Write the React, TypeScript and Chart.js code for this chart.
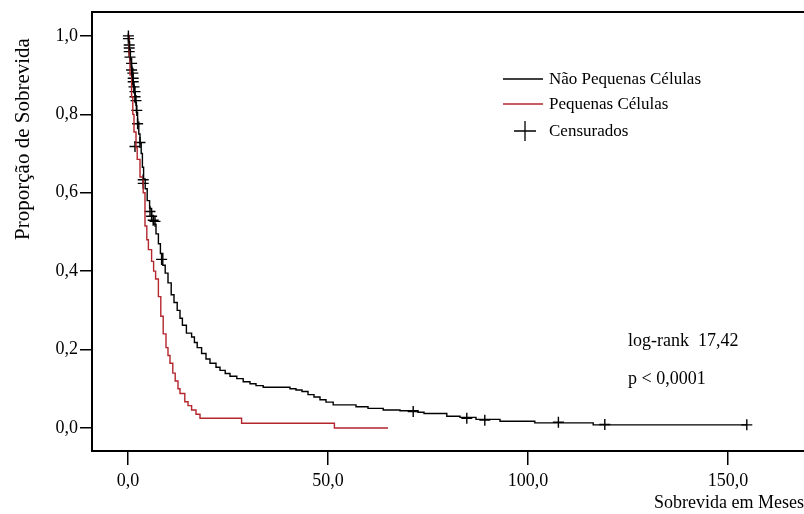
import React, { useEffect, useRef } from "react";
import { Chart, registerables } from "chart.js";

Chart.register(...registerables);

// ---- Data ----
const npcLabel = "Não Pequenas Células";
const npcTimes = [0, 0.2, 0.4, 0.6, 0.8, 1.0, 1.2, 1.5, 1.8, 2.1, 2.4, 2.7, 3.0, 3.3, 3.6, 3.9, 4.3, 4.8, 5.4, 5.9, 6.4, 7.0, 7.6, 8.1, 8.7, 9.3, 10.0, 10.8, 11.5, 12.3, 13.0, 13.6, 14.6, 15.9, 16.6, 17.3, 18.4, 19.5, 20.5, 22.0, 23.0, 24.3, 25.5, 27.2, 28.8, 30.5, 32.0, 33.8, 40.5, 42.0, 43.5, 45.0, 46.5, 48.0, 49.5, 51.3, 57.0, 60.0, 63.8, 68.0, 72.5, 74.0, 79.7, 83.0, 87.0, 93.0, 101.7, 116.3, 154.7];
const npcSurv = [1.0, 0.985, 0.965, 0.94, 0.92, 0.895, 0.875, 0.855, 0.83, 0.805, 0.78, 0.75, 0.725, 0.7, 0.665, 0.635, 0.61, 0.58, 0.56, 0.54, 0.52, 0.495, 0.47, 0.445, 0.415, 0.395, 0.37, 0.34, 0.32, 0.3, 0.28, 0.262, 0.242, 0.232, 0.218, 0.205, 0.19, 0.176, 0.165, 0.155, 0.147, 0.139, 0.132, 0.126, 0.118, 0.113, 0.108, 0.104, 0.1, 0.097, 0.093, 0.085, 0.079, 0.072, 0.066, 0.059, 0.054, 0.05, 0.046, 0.044, 0.04, 0.037, 0.03, 0.027, 0.022, 0.017, 0.013, 0.008, 0.008];

const pcLabel = "Pequenas Células";
const pcTimes = [0, 0.3, 0.5, 0.9, 1.2, 1.5, 2.0, 2.3, 3.0, 3.8, 4.25, 4.7, 5.1, 5.9, 6.4, 6.9, 7.6, 8.2, 8.8, 9.5, 10.0, 10.5, 11.2, 11.8, 12.5, 13.0, 14.2, 15.0, 15.9, 17.0, 18.0, 28.4, 51.6, 65.0];
const pcSurv = [1.0, 0.95, 0.9, 0.845, 0.8, 0.755, 0.715, 0.685, 0.64, 0.6, 0.515, 0.48, 0.455, 0.425, 0.4, 0.38, 0.335, 0.285, 0.24, 0.205, 0.185, 0.165, 0.14, 0.12, 0.1, 0.088, 0.067, 0.057, 0.046, 0.035, 0.025, 0.012, 0.0, 0.0];

const censLabel = "Censurados";
const censTimes = [0.1, 0.1, 0.3, 0.3, 0.3, 0.5, 0.9, 0.9, 1.2, 1.3, 1.3, 1.5, 1.75, 1.75, 2.0, 2.2, 2.4, 3.0, 1.75, 3.8, 3.8, 5.5, 5.9, 6.3, 6.75, 8.4, 71.3, 84.7, 89.2, 107.6, 119.2, 154.7];
const censSurv = [1.0, 0.993, 0.977, 0.969, 0.96, 0.946, 0.93, 0.913, 0.905, 0.892, 0.883, 0.87, 0.858, 0.845, 0.835, 0.81, 0.776, 0.728, 0.718, 0.633, 0.624, 0.552, 0.54, 0.53, 0.527, 0.43, 0.042, 0.025, 0.02, 0.0145, 0.009, 0.008];

const xTicks = [0, 50, 100, 150];
const yTicks = [0, 0.2, 0.4, 0.6, 0.8, 1.0];
const xTitle = "Sobrevida em Meses";
const yTitle = "Proporção de Sobrevida";
const annotations = ["log-rank  17,42", "p < 0,0001"];

const FONT = '"Liberation Serif", "Times New Roman", serif';
const BLACK = "#000000";
const RED = "#b3262c";

const fmt = (v: number) => Number(v).toFixed(1).replace(".", ",");

export default function App() {
  const ref = useRef<HTMLCanvasElement>(null);

  useEffect(() => {
    document.body.style.margin = "0";
    const canvas = ref.current!;

    const overlay = {
      id: "overlay",
      afterDraw(chart: any) {
        const ctx = chart.ctx as CanvasRenderingContext2D;
        const a = chart.chartArea;
        ctx.save();
        // top frame line
        ctx.strokeStyle = BLACK;
        ctx.lineWidth = 2;
        ctx.beginPath();
        ctx.moveTo(a.left - 1, a.top);
        ctx.lineTo(a.right, a.top);
        ctx.stroke();

        // legend
        const ds = chart.data.datasets;
        const lx = 503;
        const rowY = [79, 104, 131];
        ctx.font = `17px ${FONT}`;
        ctx.textBaseline = "middle";
        ctx.textAlign = "left";
        ds.forEach((d: any, i: number) => {
          const y = rowY[i];
          ctx.strokeStyle = d.borderColor;
          ctx.lineWidth = 1.3;
          ctx.beginPath();
          if (i < 2) {
            ctx.moveTo(lx, y);
            ctx.lineTo(lx + 40, y);
          } else {
            ctx.moveTo(lx + 11, y);
            ctx.lineTo(lx + 33, y);
            ctx.moveTo(lx + 22, y - 10);
            ctx.lineTo(lx + 22, y + 10);
          }
          ctx.stroke();
          ctx.fillStyle = BLACK;
          ctx.fillText(d.label, lx + 46, y + 1);
        });

        // annotations
        ctx.font = `18px ${FONT}`;
        ctx.fillText(annotations[0], 628, 341);
        ctx.fillText(annotations[1], 628, 379);

        // x title
        ctx.textAlign = "right";
        ctx.fillText(xTitle, 804, 503);

        // y title
        ctx.translate(23, 139);
        ctx.rotate(-Math.PI / 2);
        ctx.textAlign = "center";
        ctx.font = `21px ${FONT}`;
        ctx.fillText(yTitle, 0, 0);
        ctx.restore();
      },
    };

    const chart = new Chart(canvas, {
      type: "line",
      data: {
        datasets: [
          {
            label: npcLabel,
            data: npcTimes.map((t, i) => ({ x: t, y: npcSurv[i] })),
            borderColor: BLACK,
            borderWidth: 1.4,
            stepped: "before",
            pointRadius: 0,
            fill: false,
          },
          {
            label: pcLabel,
            data: pcTimes.map((t, i) => ({ x: t, y: pcSurv[i] })),
            borderColor: RED,
            borderWidth: 1.4,
            stepped: "before",
            pointRadius: 0,
            fill: false,
          },
          {
            label: censLabel,
            data: censTimes.map((t, i) => ({ x: t, y: censSurv[i] })),
            borderColor: BLACK,
            backgroundColor: BLACK,
            showLine: false,
            pointStyle: "cross",
            pointRadius: 5.5,
            pointBorderWidth: 1.4,
          },
        ],
      } as any,
      options: {
        animation: false,
        responsive: false,
        devicePixelRatio: 1,
        layout: { autoPadding: false, padding: { top: 12, left: 0, right: 0, bottom: 0 } },
        plugins: { legend: { display: false }, tooltip: { enabled: false } },
        scales: {
          x: {
            type: "linear",
            min: -9,
            max: 169,
            afterBuildTicks: (s: any) => {
              s.ticks = xTicks.map((v) => ({ value: v }));
            },
            afterFit: (s: any) => {
              s.height = 63;
              s.paddingLeft = 0;
              s.paddingRight = 0;
            },
            border: { display: true, color: BLACK, width: 2 },
            grid: { drawOnChartArea: false, drawTicks: true, tickLength: 14, color: BLACK, lineWidth: 1.5 },
            ticks: {
              color: BLACK,
              font: { family: FONT, size: 18 },
              padding: 5,
              maxRotation: 0,
              autoSkip: false,
              callback: (v: any) => fmt(v),
            },
          },
          y: {
            type: "linear",
            min: -0.0587,
            max: 1.061,
            afterBuildTicks: (s: any) => {
              s.ticks = yTicks.map((v) => ({ value: v }));
            },
            afterFit: (s: any) => {
              s.width = 92;
              s.paddingTop = 0;
              s.paddingBottom = 0;
            },
            border: { display: true, color: BLACK, width: 2 },
            grid: { drawOnChartArea: false, drawTicks: true, tickLength: 12, color: BLACK, lineWidth: 1.5 },
            ticks: {
              color: BLACK,
              font: { family: FONT, size: 18 },
              padding: 2,
              autoSkip: false,
              callback: (v: any) => fmt(v),
            },
          },
        },
      } as any,
      plugins: [overlay],
    });
    return () => chart.destroy();
  }, []);

  return (
    <div style={{ width: 804, height: 514, overflow: "hidden" }}>
      <canvas ref={ref} width={804} height={514} style={{ display: "block", width: 804, height: 514 }} />
    </div>
  );
}
